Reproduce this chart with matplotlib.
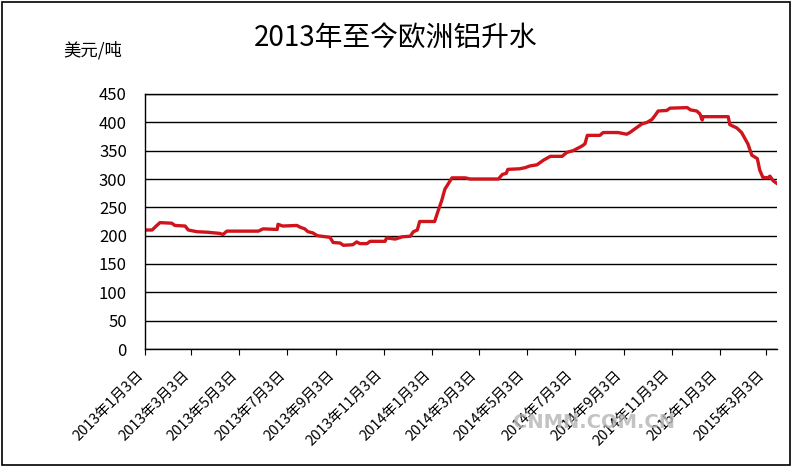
import matplotlib
matplotlib.use('Agg')
import matplotlib.pyplot as plt
import matplotlib.transforms as mtransforms
import pandas as pd
from matplotlib.patches import Rectangle

plt.rcParams['font.family'] = ['Noto Sans CJK SC', 'DejaVu Sans']

# European aluminium premium, USD/t
dates = [
    '2013-01-03', '2013-01-12', '2013-01-18', '2013-01-22', '2013-02-06', '2013-02-10',
    '2013-02-23', '2013-02-27', '2013-03-10', '2013-03-24', '2013-04-08', '2013-04-12',
    '2013-04-17', '2013-05-27', '2013-06-02', '2013-06-20', '2013-06-21', '2013-06-27',
    '2013-07-15', '2013-07-19', '2013-07-25', '2013-07-29', '2013-08-04', '2013-08-10',
    '2013-08-26', '2013-08-30', '2013-09-08', '2013-09-12', '2013-09-24', '2013-09-29',
    '2013-10-03', '2013-10-12', '2013-10-16', '2013-11-04', '2013-11-06', '2013-11-17',
    '2013-11-26', '2013-12-06', '2013-12-10', '2013-12-15', '2013-12-18', '2014-01-06',
    '2014-01-10', '2014-01-15', '2014-01-19', '2014-01-28', '2014-02-14', '2014-02-20',
    '2014-03-28', '2014-04-02', '2014-04-07', '2014-04-09', '2014-04-24', '2014-05-01',
    '2014-05-07', '2014-05-16', '2014-05-24', '2014-06-02', '2014-06-17', '2014-06-23',
    '2014-07-01', '2014-07-12', '2014-07-16', '2014-07-19', '2014-08-04', '2014-08-08',
    '2014-08-27', '2014-09-07', '2014-09-11', '2014-09-18', '2014-09-26', '2014-10-03',
    '2014-10-09', '2014-10-13', '2014-10-17', '2014-10-28', '2014-11-01', '2014-11-23',
    '2014-11-27', '2014-12-05', '2014-12-09', '2014-12-12', '2014-12-13', '2015-01-14',
    '2015-01-16', '2015-01-25', '2015-01-31', '2015-02-08', '2015-02-13', '2015-02-20',
    '2015-02-23', '2015-02-27', '2015-03-05', '2015-03-08', '2015-03-12', '2015-03-17',
]
premium = [
    210, 210, 218, 223, 222, 218,
    217, 210, 207, 206, 204, 202,
    208, 208, 212, 211, 220, 217,
    218, 215, 212, 207, 205, 200,
    197, 188, 187, 183, 184, 189,
    186, 186, 190, 190, 196, 194,
    198, 199, 207, 210, 225, 225,
    242, 262, 282, 302, 302, 300,
    300, 308, 310, 317, 318, 320,
    323, 325, 333, 340, 340, 347,
    350, 358, 362, 377, 377, 382,
    382, 379, 382, 389, 397, 400,
    405, 412, 420, 421, 425, 426,
    422, 420, 415, 404, 410, 410,
    396, 390, 382, 362, 342, 336,
    316, 303, 302, 305, 297, 292,
]

tick_dates = [
    '2013-01-03', '2013-03-03', '2013-05-03', '2013-07-03', '2013-09-03', '2013-11-03',
    '2014-01-03', '2014-03-03', '2014-05-03', '2014-07-03', '2014-09-03', '2014-11-03',
    '2015-01-03', '2015-03-03',
]
tick_labels = [
    '2013年1月3日', '2013年3月3日', '2013年5月3日', '2013年7月3日', '2013年9月3日', '2013年11月3日',
    '2014年1月3日', '2014年3月3日', '2014年5月3日', '2014年7月3日', '2014年9月3日', '2014年11月3日',
    '2015年1月3日', '2015年3月3日',
]

W, H = 793, 467
fig = plt.figure(figsize=(W / 100, H / 100), dpi=100)
ax = fig.add_axes([145 / W, 1 - 349 / H, (777 - 145) / W, (349 - 94) / H])

ax.plot(pd.to_datetime(dates), premium, color='#d0141c', lw=2.4)

ax.set_ylim(0, 450)
ax.set_yticks(range(0, 451, 50))
ax.set_xlim(pd.Timestamp('2013-01-03'), pd.Timestamp('2015-03-17'))
ax.grid(axis='y', color='black', lw=1)
ax.set_axisbelow(True)
ax.spines['right'].set_visible(False)
for s in ['left', 'bottom', 'top']:
    ax.spines[s].set_color('black')
    ax.spines[s].set_linewidth(1)

ax.tick_params(axis='y', length=0, pad=13, labelsize=12)
ax.set_xticks(pd.to_datetime(tick_dates))
ax.set_xticklabels(tick_labels, rotation=45, ha='right', va='center',
                   rotation_mode='anchor', fontsize=10.5)
ax.tick_params(axis='x', length=4, direction='out', pad=13)
shift = mtransforms.ScaledTranslation(-4 / 100, 0, fig.dpi_scale_trans)
for lab in ax.get_xticklabels():
    lab.set_transform(lab.get_transform() + shift)

fig.text(93 / W, 1 - 50 / H, '美元/吨', ha='center', va='center', fontsize=12.5)
fig.text(396 / W, 1 - 39 / H, '2013年至今欧洲铝升水', ha='center', va='center', fontsize=20)
fig.text(594 / W, 1 - 422 / H, 'CNMN.COM.CN', ha='center', va='center', fontsize=14,
         fontweight='bold', color='#b5b5b5', alpha=0.8, family='DejaVu Sans')

fig.patches.append(Rectangle((2 / W, 2 / H), 788 / W, 463 / H, transform=fig.transFigure,
                             fill=False, ec='black', lw=1.2))

fig.savefig('out.png', dpi=100)
